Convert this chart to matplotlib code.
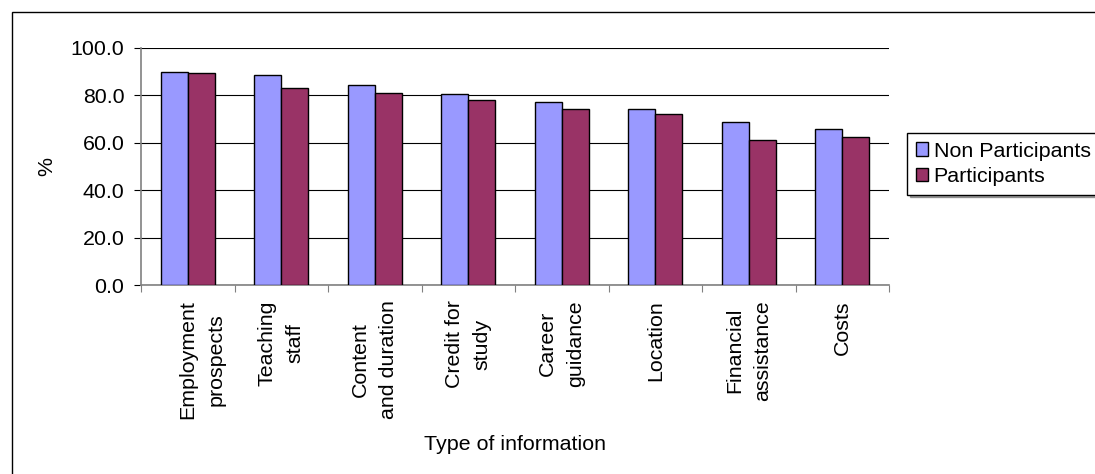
import numpy as np
import matplotlib
matplotlib.use("Agg")
import matplotlib.pyplot as plt
from matplotlib.patches import Rectangle
from matplotlib.transforms import ScaledTranslation

# -----------------------------
# data
# -----------------------------
categories = [
    "Employment\nprospects",
    "Teaching\nstaff",
    "Content\nand duration",
    "Credit for\nstudy",
    "Career\nguidance",
    "Location",
    "Financial\nassistance",
    "Costs",
]
non_participants = [89.8, 88.5, 84.3, 80.6, 77.3, 74.2, 68.5, 65.7]
participants = [89.5, 83.1, 80.8, 77.9, 74.1, 72.0, 61.1, 62.4]
yticks = [0, 20, 40, 60, 80, 100]

plt.rcParams["font.family"] = ["Liberation Sans", "DejaVu Sans"]
FS = 15.4

fig = plt.figure(figsize=(10.95, 4.74), dpi=100)
ax = fig.add_axes([0.1288, 0.3987, 0.6831, 0.5007])

x = np.arange(len(categories))
w = 0.29
ax.bar(x - w / 2, non_participants, w, color="#9999FF", edgecolor="black",
       linewidth=1.0, label="Non Participants", zorder=3)
ax.bar(x + w / 2, participants, w, color="#993366", edgecolor="black",
       linewidth=1.0, label="Participants", zorder=3)

ax.set_xlim(-0.5, len(categories) - 0.5)
ax.set_ylim(0, 100)
ax.set_yticks(yticks)
ax.set_yticklabels([f"{v:.1f}" for v in yticks], fontsize=FS)
ax.yaxis.grid(True, color="black", linewidth=0.8, zorder=0)
ax.set_axisbelow(True)

# category labels on major ticks, tick marks between categories
ax.set_xticks(x)
ax.set_xticklabels(categories, rotation=90, fontsize=FS, ha="center", va="top",
                   multialignment="center", linespacing=1.6)
ax.set_xticks(np.arange(-0.5, len(categories)), minor=True)
ax.tick_params(axis="x", which="major", length=0, pad=11)
ax.tick_params(axis="x", which="minor", length=5, width=0.8, color="#808080", direction="out")
ax.tick_params(axis="y", length=5, width=0.8, color="black", pad=7)

lbl = ax.get_xticklabels()[0]
lbl.set_transform(lbl.get_transform() + ScaledTranslation(0.14, 0, fig.dpi_scale_trans))

for s in ("top", "right"):
    ax.spines[s].set_visible(False)
for s in ("left", "bottom"):
    ax.spines[s].set_color("#808080")
    ax.spines[s].set_linewidth(1.2)

ax.set_ylabel("%", fontsize=FS, va="center")
ax.yaxis.set_label_coords(-0.1257, 0.5)
ax.set_xlabel("Type of information", fontsize=FS, va="center")
ax.xaxis.set_label_coords(0.5, -0.674)

leg = fig.legend(loc="upper left", bbox_to_anchor=(0.8283, 0.7194),
                 bbox_transform=fig.transFigure, fontsize=FS, frameon=True,
                 fancybox=False, shadow=True, edgecolor="black",
                 handlelength=0.6, handleheight=0.6, handletextpad=0.25,
                 labelspacing=0.3, borderpad=0.4, borderaxespad=0)
leg.get_frame().set_linewidth(1.0)

# outer chart frame
fig.patches.append(Rectangle((12 / 1095, -0.2), 1.2, 1.2 - 12 / 474,
                             transform=fig.transFigure, fill=False,
                             edgecolor="black", linewidth=1.0))

fig.savefig("out.png", dpi=100)
